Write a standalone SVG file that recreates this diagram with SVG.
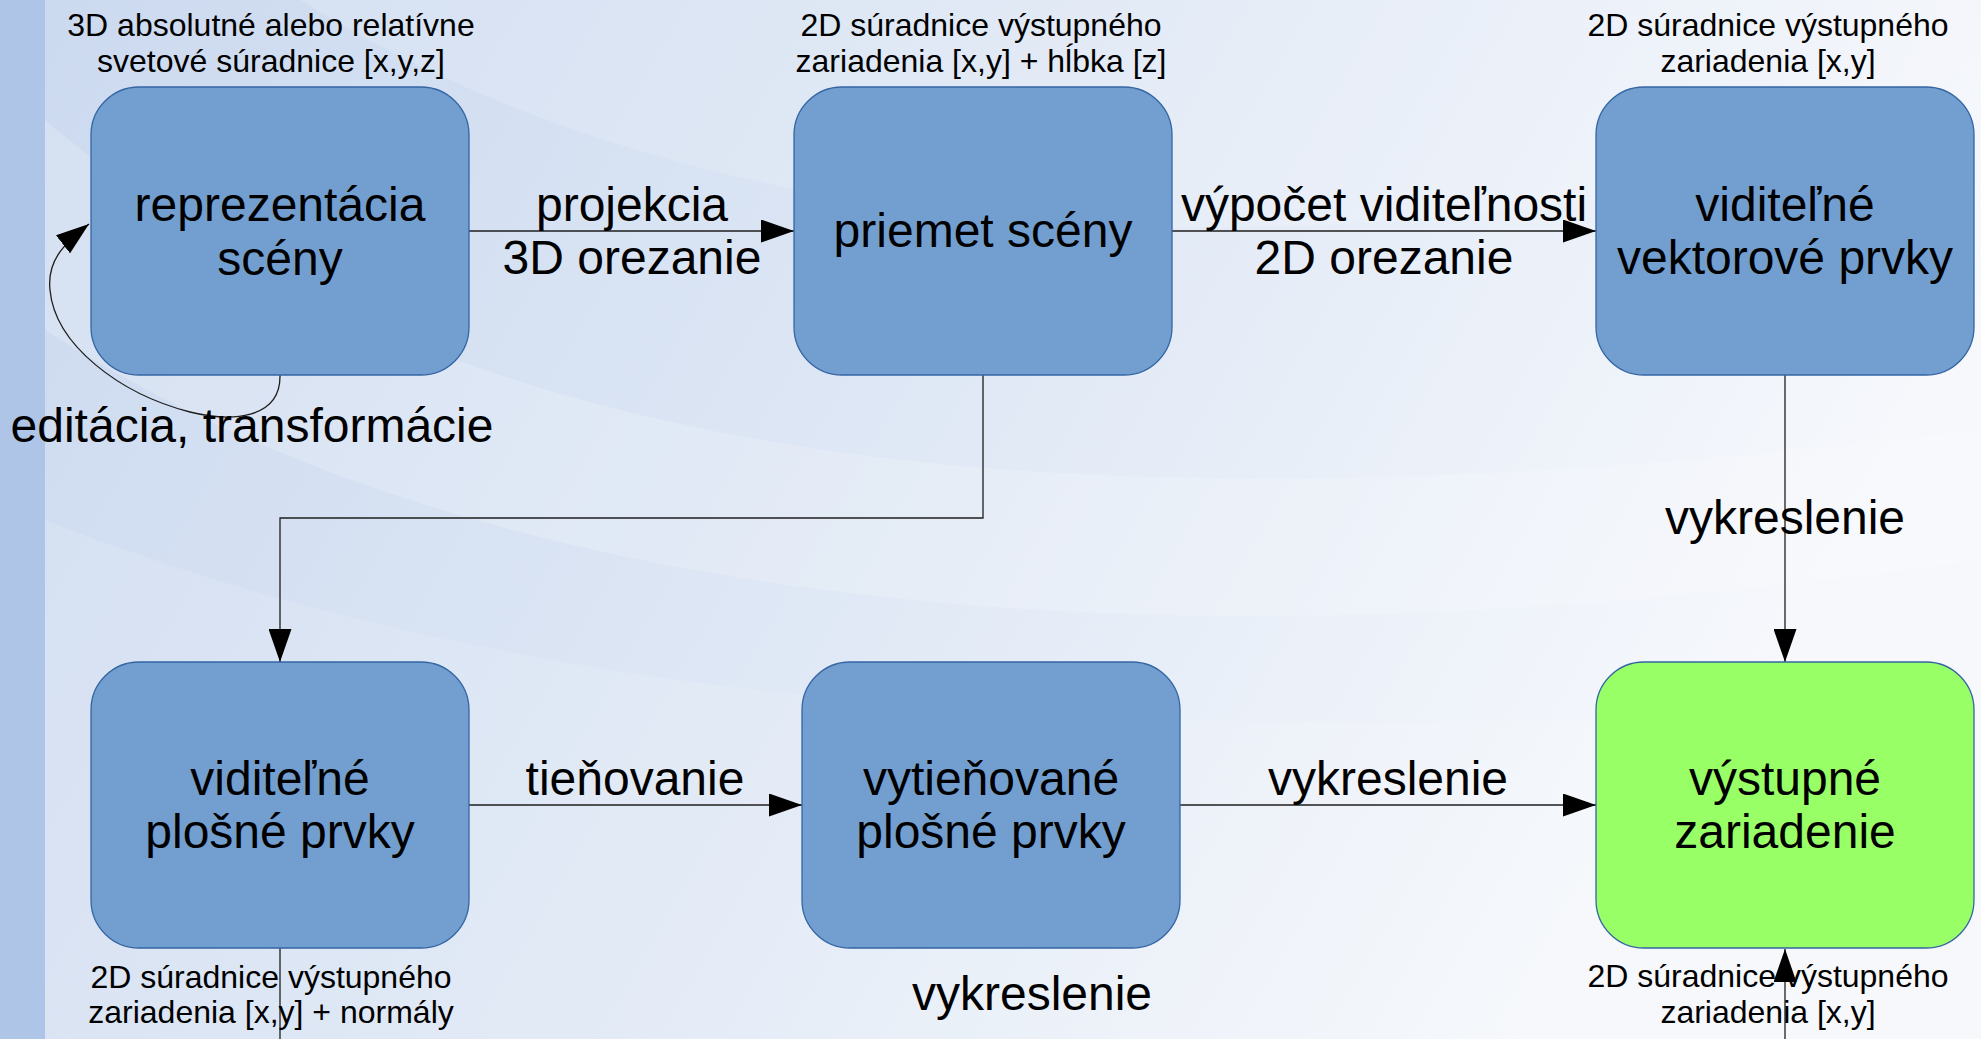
<svg xmlns="http://www.w3.org/2000/svg" width="1981" height="1039" viewBox="0 0 1981 1039">
  <defs>
    <linearGradient id="bg" x1="0" y1="0" x2="1" y2="0.3">
      <stop offset="0" stop-color="#cbd9ef"/>
      <stop offset="0.45" stop-color="#dbe5f4"/>
      <stop offset="1" stop-color="#f6f8fc"/>
    </linearGradient>
    <marker id="arr" markerUnits="userSpaceOnUse" markerWidth="34" markerHeight="23" refX="33" refY="11.5" orient="auto">
      <path d="M0,0 L33,11.5 L0,23 Z" fill="#000"/>
    </marker>
    <style>
      .node rect { stroke: #3465a4; stroke-width: 1.3; }
      .blue { fill: #729fcf; }
      .green { fill: #99ff66; }
      .big { font-family: "Liberation Sans", Arial, sans-serif; font-size: 48px; fill: #000; text-anchor: middle; }
      .small { font-family: "Liberation Sans", Arial, sans-serif; font-size: 32px; fill: #000; text-anchor: middle; }
      .conn { fill: none; stroke: #1e1e1e; stroke-width: 1.3; }
    </style>
  </defs>

  <!-- background -->
  <rect x="0" y="0" width="1981" height="1039" fill="url(#bg)"/>
  <path d="M45,120 C 400,420 900,560 1981,430 L1981,560 C 1000,700 400,560 45,330 Z" fill="#ffffff" opacity="0.18"/>
  <path d="M45,520 C 500,700 1100,760 1981,700 L1981,1039 L45,1039 Z" fill="#ffffff" opacity="0.12"/>
  <path d="M300,0 C 700,250 1300,300 1981,120 L1981,0 Z" fill="#ffffff" opacity="0.15"/>
  <rect x="0" y="0" width="45" height="1039" fill="#afc5e8"/>

  <!-- connectors -->
  <g id="connectors">
    <path class="conn" d="M469,231 L794,231" marker-end="url(#arr)"/>
    <path class="conn" d="M1172,231 L1596,231" marker-end="url(#arr)"/>
    <path class="conn" d="M1785,375 L1785,662" marker-end="url(#arr)"/>
    <path class="conn" d="M983,375 L983,518 L280,518 L280,662" marker-end="url(#arr)"/>
    <path class="conn" d="M469,805 L802,805" marker-end="url(#arr)"/>
    <path class="conn" d="M1180,805 L1596,805" marker-end="url(#arr)"/>
    <path class="conn" d="M280,375 C281,420 230,422 190,412 C 120,394 55,345 50,290 C 47,262 62,245 89,224" marker-end="url(#arr)"/>
    <path class="conn" d="M280,948 L280,1039"/>
    <path class="conn" d="M1785,1039 L1785,949" marker-end="url(#arr)"/>
  </g>

  <!-- nodes -->
  <g id="node-reprezentacia" class="node">
    <rect class="blue" x="91" y="87" width="378" height="288" rx="48" ry="48"/>
    <text class="big" x="280" y="221">reprezentácia</text>
    <text class="big" x="280" y="275">scény</text>
  </g>
  <g id="node-priemet" class="node">
    <rect class="blue" x="794" y="87" width="378" height="288" rx="48" ry="48"/>
    <text class="big" x="983" y="247">priemet scény</text>
  </g>
  <g id="node-vektorove" class="node">
    <rect class="blue" x="1596" y="87" width="378" height="288" rx="48" ry="48"/>
    <text class="big" x="1785" y="221">viditeľné</text>
    <text class="big" x="1785" y="274">vektorové prvky</text>
  </g>
  <g id="node-plosne" class="node">
    <rect class="blue" x="91" y="662" width="378" height="286" rx="48" ry="48"/>
    <text class="big" x="280" y="795">viditeľné</text>
    <text class="big" x="280" y="848">plošné prvky</text>
  </g>
  <g id="node-vytienovane" class="node">
    <rect class="blue" x="802" y="662" width="378" height="286" rx="48" ry="48"/>
    <text class="big" x="991" y="795">vytieňované</text>
    <text class="big" x="991" y="848">plošné prvky</text>
  </g>
  <g id="node-vystupne" class="node">
    <rect class="green" x="1596" y="662" width="378" height="286" rx="48" ry="48"/>
    <text class="big" x="1785" y="795">výstupné</text>
    <text class="big" x="1785" y="848">zariadenie</text>
  </g>

  <!-- labels -->
  <g id="labels">
    <text class="small" x="271" y="36">3D absolutné alebo relatívne</text>
    <text class="small" x="271" y="72">svetové súradnice [x,y,z]</text>
    <text class="small" x="981" y="36">2D súradnice výstupného</text>
    <text class="small" x="981" y="72">zariadenia [x,y] + hĺbka [z]</text>
    <text class="small" x="1768" y="36">2D súradnice výstupného</text>
    <text class="small" x="1768" y="72">zariadenia [x,y]</text>
    <text class="small" x="271" y="988">2D súradnice výstupného</text>
    <text class="small" x="271" y="1023">zariadenia [x,y] + normály</text>
    <text class="small" x="1768" y="987">2D súradnice výstupného</text>
    <text class="small" x="1768" y="1023">zariadenia [x,y]</text>

    <text class="big" x="632" y="221">projekcia</text>
    <text class="big" x="632" y="274">3D orezanie</text>
    <text class="big" x="1384" y="221">výpočet viditeľnosti</text>
    <text class="big" x="1384" y="274">2D orezanie</text>
    <text class="big" x="252" y="442">editácia, transformácie</text>
    <text class="big" x="1785" y="534">vykreslenie</text>
    <text class="big" x="635" y="795">tieňovanie</text>
    <text class="big" x="1388" y="795">vykreslenie</text>
    <text class="big" x="1032" y="1010">vykreslenie</text>
  </g>
</svg>
